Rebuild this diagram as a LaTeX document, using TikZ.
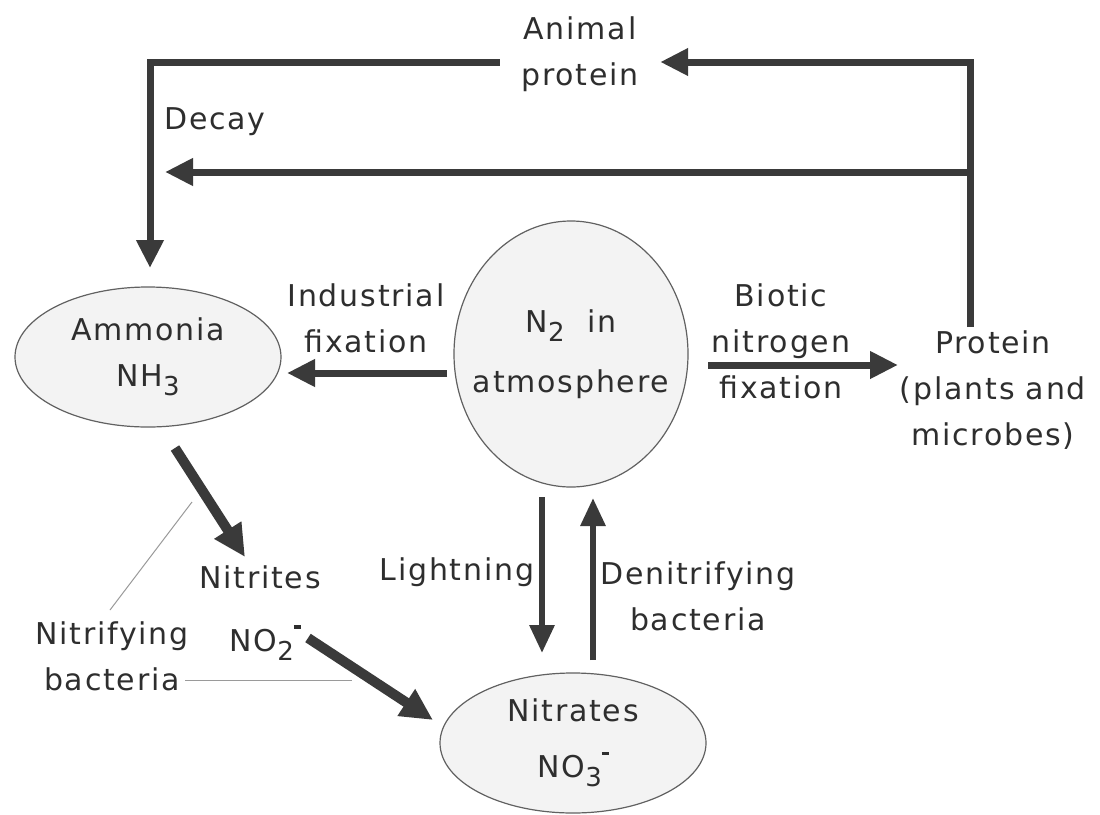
\documentclass[tikz,border=0pt]{standalone}
\usepackage{fontspec}
\setmainfont{DejaVu Sans}[LetterSpace=6]
\usetikzlibrary{arrows.meta,shapes.geometric}
\definecolor{ink}{HTML}{3A3A3A}
\definecolor{txt}{HTML}{2E2E2E}
\definecolor{efill}{HTML}{F3F3F3}
\definecolor{thin}{HTML}{9A9A9A}
\newcommand\dn[1]{\raisebox{-0.3em}{\fontsize{26}{26}\selectfont #1}}
\newcommand\ionminus{\raisebox{0.75em}{\rule{0.22em}{0.12em}}}
\begin{document}
\begin{tikzpicture}[x=1pt,y=-1pt,
  every node/.style={text=txt,font=\fontsize{30}{46}\selectfont,inner sep=0pt,align=center},
  pool/.style={ellipse,draw=ink!80,line width=1.2pt,fill=efill,inner sep=-60pt},
  flow/.style={draw=ink,line width=7pt,-{Triangle[length=28pt,width=26pt]}},
  bold/.style={draw=ink,line width=10pt,-{Triangle[length=32pt,width=30pt]}},
  hair/.style={draw=thin,line width=1pt}]
\useasboundingbox[fill=white] (0,0) rectangle (1100,814);
% pools
\node[pool,minimum width=266pt,minimum height=140pt] (amm) at (148,357) {Ammonia\\NH\dn{3}};
\node[pool,minimum width=234pt,minimum height=266pt] (n2) at (571,354) {N\dn{2}\ \ in\\[14pt]atmosphere};
\node[pool,minimum width=266pt,minimum height=140pt] (nitr) at (573,743) {Nitrates\\[10pt]NO\dn{3}\ionminus};
% labels
\node (animal) at (580,54) [minimum width=160pt] {Animal\\protein};
\node (decay) at (215,122) {Decay};
\node (indus) at (366,318) {Industrial\\fixation};
\node (biotic) at (781,341) {Biotic\\nitrogen\\fixation};
\node (protein) at (993,390) {Protein\\(plants and\\microbes)};
\node (nitrites) at (260,577) {Nitrites};
\node (no2) at (265,643) {NO\dn{2}\ionminus};
\node (nitrif) at (112,656) {Nitrifying\\bacteria};
\node (light) at (457,572) {Lightning};
\node (denit) at (698,596) {Denitrifying\\bacteria};
% bend points
\coordinate (tl) at (150,62);
\coordinate (tr) at (970,62);
\coordinate (mr) at (970,172);
\coordinate (ml) at (165,172);
\coordinate (pt) at (970,327);
\coordinate (atop) at (150,268);
\coordinate (n2w) at (447,373);
\coordinate (ammE) at (287,373);
\coordinate (n2e) at (708,365);
\coordinate (protW) at (898,365);
\coordinate (a1) at (175,448);
\coordinate (a2) at (245,557);
\coordinate (b1) at (308,638);
\coordinate (b2) at (433,720);
\coordinate (l1) at (542,497);
\coordinate (l2) at (542,653);
\coordinate (d1) at (593,660);
\coordinate (d2) at (593,498);
\coordinate (h1) at (110,610);
\coordinate (h2) at (192,502);
\coordinate (h3) at (185,680);
\coordinate (h4) at (352,680);
% connectors
\draw[flow] (pt) -- (tr) -- (animal.east |- tr);
\draw[flow] (animal.west |- tl) -- (tl) -- (atop);
\draw[flow] (mr) -- (ml);
\draw[flow] (n2w) -- (ammE);
\draw[flow] (n2e) -- (protW);
\draw[bold] (a1) -- (a2);
\draw[bold] (b1) -- (b2);
\draw[draw=ink,line width=6pt,-{Triangle[length=28pt,width=24pt]}] (l1) -- (l2);
\draw[draw=ink,line width=6pt,-{Triangle[length=28pt,width=24pt]}] (d1) -- (d2);
\draw[hair] (h1) -- (h2);
\draw[hair] (h3) -- (h4);
\end{tikzpicture}
\end{document}
